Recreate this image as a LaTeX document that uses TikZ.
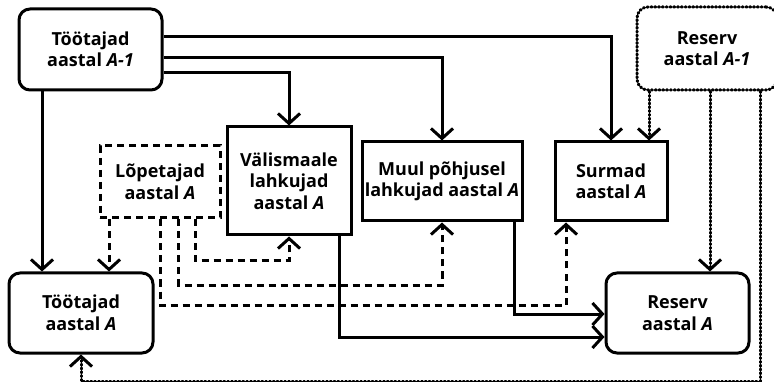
\documentclass[tikz,border=0pt]{standalone}
\usepackage{fontspec}
\setmainfont{Open Sans}
\usetikzlibrary{arrows.meta}
\begin{document}
\begin{tikzpicture}[x=1pt,y=-1pt,
  every node/.style={font=\fontsize{18}{21.5}\selectfont\bfseries, align=center, inner sep=0pt},
  box/.style={draw, line width=3pt, rounded corners=11pt},
  flowbox/.style={draw, line width=3pt},
  arr/.style={line width=3pt, -{Straight Barb[length=10pt, width=22pt, line width=3pt]}},
  dasharr/.style={arr, dash pattern=on 7pt off 5pt},
  dotarr/.style={arr, dash pattern=on 1.2pt off 2.6pt, line cap=round, line width=3pt}]
  \clip (0,0) rectangle (774,382);
  % kastid
  \node[box, minimum width=143pt, minimum height=81pt] (t1) at (90.5,49.5) {Töötajad\\aastal \textit{A-1}};
  \node[box, dotarr, -, minimum width=140pt, minimum height=83pt] (r1) at (707,48.5) {Reserv\\aastal \textit{A-1}};
  \node[flowbox, dash pattern=on 7pt off 5pt, minimum width=120pt, minimum height=72pt] (lop) at (160,182) {Lõpetajad\\aastal \textit{A}};
  \node[flowbox, minimum width=124pt, minimum height=108pt] (val) at (289,181) {Välismaale\\lahkujad\\aastal \textit{A}};
  \node[flowbox, minimum width=160pt, minimum height=79pt] (muul) at (442,181.5) {Muul põhjusel\\lahkujad aastal \textit{A}};
  \node[flowbox, minimum width=112pt, minimum height=79pt] (surm) at (611,181.5) {Surmad\\aastal \textit{A}};
  \node[box, minimum width=144pt, minimum height=80pt] (ta) at (81,313) {Töötajad\\aastal \textit{A}};
  \node[box, minimum width=143pt, minimum height=80pt] (ra) at (677.5,313) {Reserv\\aastal \textit{A}};
  % töötajad aastal A-1
  \draw[arr] (t1.east |- 0,37) -| (surm.north);
  \draw[arr] (t1.east |- 0,58) -| (muul.north);
  \draw[arr] (t1.east |- 0,73) -| (val.north);
  \draw[arr] (t1.south -| 42,0) -- (ta.north -| 42,0);
  % reserv aastal A-1
  \draw[dotarr] (r1.south -| 649,0) -- (surm.north -| 649,0);
  \draw[dotarr] (r1.south -| 710,0) -- (ra.north -| 710,0);
  \draw[dotarr] (r1.south -| 760,0) -- (760,381) -| (ta.south);
  % lõpetajad
  \draw[dasharr] (lop.south -| 109,0) -- (ta.north -| 109,0);
  \draw[dasharr] (lop.south -| 195,0) -- (195,261) -| (val.south);
  \draw[dasharr] (lop.south -| 178,0) -- (178,285) -| (muul.south);
  \draw[dasharr] (lop.south -| 160,0) -- (160,305) -| (surm.south -| 566,0);
  % lahkujad reservi
  \draw[arr] (val.south -| 339,0) |- (ra.west |- 0,337);
  \draw[arr] (muul.south -| 514,0) |- (ra.west |- 0,314);
\end{tikzpicture}
\end{document}
